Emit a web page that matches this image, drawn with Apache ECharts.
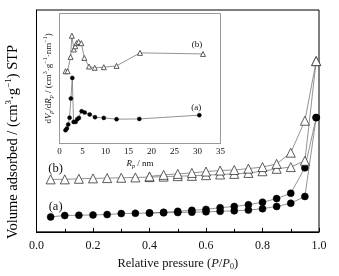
<!DOCTYPE html>
<html>
<head>
<meta charset="utf-8">
<script src="https://cdn.jsdelivr.net/npm/echarts@6/dist/echarts.min.js"></script>
<style>html,body{margin:0;padding:0;background:#fff}#c{width:339px;height:276px}</style>
</head>
<body>
<div id="c"></div>
<script>
// Main plot: relative pressure
const pAds = [0.05,0.10,0.15,0.20,0.25,0.30,0.35,0.40,0.45,0.50,0.55,0.60,0.65,0.70,0.75,0.80,0.85,0.90,0.95,0.99];
const aAds = [6.74,7.36,7.49,7.62,7.80,8.24,8.37,8.50,8.59,8.72,8.85,9.03,9.25,9.47,9.82,10.44,11.45,12.91,15.95,51.5];
const pDes = [0.99,0.95,0.90,0.85,0.80,0.75,0.70,0.65,0.60,0.55,0.50,0.45,0.40];
const aDes = [51.5,28.85,17.4,14.98,13.35,12.2,11.45,10.88,10.13,9.69,9.25,8.81,8.5];
const bAds = [23.66,23.66,23.92,24.1,24.23,24.36,24.54,24.67,24.89,25.11,25.24,25.55,25.86,26.12,26.56,27.31,28.41,29.2,32.03,76.96];
const bDes = [76.96,50.09,35.68,30.62,29.2,28.5,27.89,27.62,27.18,26.56,26.12,25.68,24.98];
// Inset: pore size distribution
const rA = [1.31,1.6,1.9,2.19,2.47,2.78,3.06,3.5,3.87,4.22,4.81,5.47,6.56,7.72,9.63,12.4,17.35,30.4];
const dA = [10.23,11.54,14.62,19.85,34.6,50.46,16.6,16.6,18.7,19.7,24.85,23.85,22.3,20.23,19.7,18.7,18.9,21.8];
const rB = [1.31,1.75,2.41,2.69,3.13,3.43,3.72,4.16,4.75,5.4,6.41,7.66,9.63,12.4,17.5,31.2];
const dB = [55.6,55.6,66.6,82.9,72.3,74.8,77.2,78.2,77.2,65.8,59.2,58.2,58.7,59.7,69.7,68.9];
const mainTicks = [0,0.2,0.4,0.6,0.8,1.0];
const insetTicks = [0,5,10,15,20,25,30,35];

const FF = '"Liberation Serif", "DejaVu Serif", serif';
const zip = (xs, ys) => xs.map((x, i) => [x, ys[i]]);
function withLabel(pts, idx, text, size, offset, pos) {
  return pts.map((p, i) => i === idx ? {value: p, label: {show: true, formatter: text, position: pos || 'top', offset: offset, fontFamily: FF, fontSize: size, color: '#111'}} : p);
}
const rich = (fs) => ({
  n: {fontFamily: FF, fontSize: fs, color: '#111', lineHeight: fs + 3},
  i: {fontFamily: FF, fontSize: fs, fontStyle: 'italic', color: '#111', lineHeight: fs + 3},
  sub: {fontFamily: FF, fontSize: Math.round(fs * 0.65), color: '#111', verticalAlign: 'bottom', lineHeight: Math.round(fs * 0.65)},
  subi: {fontFamily: FF, fontSize: Math.round(fs * 0.65), fontStyle: 'italic', color: '#111', verticalAlign: 'bottom', lineHeight: Math.round(fs * 0.65)},
  sup: {fontFamily: FF, fontSize: Math.round(fs * 0.65), color: '#111', verticalAlign: 'top', lineHeight: Math.round(fs * 0.65)}
});

const lineC = '#777';
const circ = (name, pts, xi, yi, size) => ({
  type: 'line', name, data: pts, xAxisIndex: xi, yAxisIndex: yi, symbol: 'circle', symbolSize: size,
  lineStyle: {color: lineC, width: 0.8}, itemStyle: {color: '#000', borderColor: '#000', borderWidth: 0.5},
  animation: false, z: 3
});
const tri = (name, pts, xi, yi, size) => ({
  type: 'line', name, data: pts, xAxisIndex: xi, yAxisIndex: yi, symbol: 'triangle', symbolSize: size,
  lineStyle: {color: lineC, width: 0.8}, itemStyle: {color: '#fff', borderColor: '#333', borderWidth: 0.8},
  animation: false, z: 3
});

const chart = echarts.init(document.getElementById('c'), null, {renderer: 'canvas'});
chart.setOption({
  backgroundColor: '#fff',
  animation: false,
  grid: [
    {left: 36.5, right: 20, top: 10, bottom: 39, show: true, borderColor: '#000', borderWidth: 1, backgroundColor: '#fff'},
    {left: 59.5, right: 118.5, top: 13.5, bottom: 132.5, show: true, borderColor: '#999', borderWidth: 1, backgroundColor: '#fff', z: 1}
  ],
  graphic: [
    {type: 'text', x: 13, y: 142, rotation: Math.PI / 2,
     style: {text: '{n|Volume adsorbed / (cm}{sup|3}{n|·g}{sup|−1}{n|) STP}', rich: rich(14.5), align: 'center', verticalAlign: 'middle'}}
  ],
  xAxis: [
    {gridIndex: 0, type: 'value', min: 0, max: 1, interval: 0.2,
     axisLine: {lineStyle: {color: '#000', width: 1}},
     axisTick: {inside: true, length: 4, lineStyle: {color: '#000'}},
     minorTick: {show: true, splitNumber: 2, length: 3, lineStyle: {color: '#000'}},
     splitLine: {show: false},
     axisLabel: {fontFamily: FF, fontSize: 12, color: '#111', margin: 8, formatter: v => mainTicks.includes(+v.toFixed(1)) ? v.toFixed(1) : ''},
     name: '{n|Relative pressure (}{i|P}{n|/}{i|P}{sub|0}{n|)}', nameLocation: 'middle', nameGap: 22,
     nameTextStyle: {rich: rich(12.5)}},
    {gridIndex: 1, type: 'value', min: 0, max: 35, interval: 5,
     axisLine: {lineStyle: {color: '#777', width: 1}},
     axisTick: {inside: true, length: 3, lineStyle: {color: '#777'}},
     minorTick: {show: true, splitNumber: 2, length: 2, lineStyle: {color: '#777'}},
     splitLine: {show: false},
     axisLabel: {fontFamily: FF, fontSize: 9, color: '#111', margin: 4, formatter: v => insetTicks.includes(v) ? String(v) : ''},
     name: '{i|R}{subi|p}{n| / nm}', nameLocation: 'middle', nameGap: 14,
     nameTextStyle: {rich: rich(9)}}
  ],
  yAxis: [
    {gridIndex: 0, type: 'value', min: 0, max: 100,
     axisLine: {show: true, lineStyle: {color: '#000', width: 1}},
     axisTick: {show: false}, axisLabel: {show: false}, splitLine: {show: false}},
    {gridIndex: 1, type: 'value', min: 0, max: 100,
     axisLine: {show: true, lineStyle: {color: '#999', width: 1}},
     axisTick: {show: false}, axisLabel: {show: false}, splitLine: {show: false},
     name: '{n|d}{i|V}{subi|p}{n|/d}{i|R}{subi|p}{n| / (cm}{sup|3}{n|·g}{sup|−1}{n|·nm}{sup|−1}{n|)}', nameLocation: 'middle', nameGap: 5, nameRotate: 90,
     nameTextStyle: {rich: rich(9)}}
  ],
  series: [
    circ('a-ads', withLabel(zip(pAds, aAds), 0, '(a)', 12.5, [5, 5]), 0, 0, 7),
    circ('a-des', zip(pDes, aDes), 0, 0, 7),
    tri('b-ads', withLabel(zip(pAds, bAds), 0, '(b)', 12.5, [5, 5.5]), 0, 0, 9),
    tri('b-des', zip(pDes, bDes), 0, 0, 9),
    circ('ia', withLabel(zip(rA, dA), rA.length - 1, '(a)', 9, [-3, 4.5]), 1, 1, 4),
    tri('ib', withLabel(zip(rB, dB), rB.length - 1, '(b)', 9, [-6, 3.5]), 1, 1, 5)
  ]
});
</script>
</body>
</html>
